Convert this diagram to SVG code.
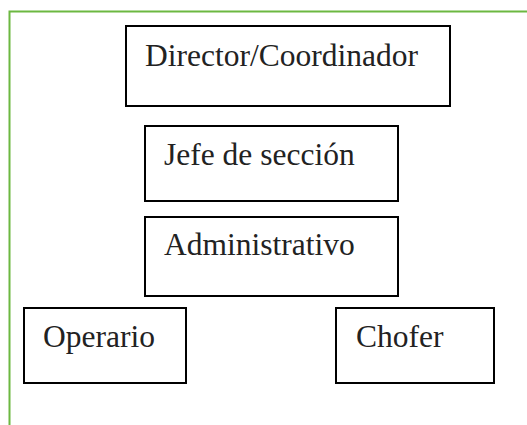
<svg xmlns="http://www.w3.org/2000/svg" width="527" height="425" viewBox="0 0 527 425">
<style>
.box{fill:#fff;stroke:#000;stroke-width:2}
.lbl{font-family:'Liberation Serif','Times New Roman',serif;font-size:31.5px;fill:#222}
</style>
<rect width="527" height="425" fill="#fff"/>
<path d="M9.5,425 V11.5 H527" fill="none" stroke="#6cb841" stroke-width="2"/>
<g id="connectors"></g>
<g id="director">
<rect class="box" x="126" y="26" width="324" height="80"/>
<text class="lbl" x="145" y="66">Director/Coordinador</text>
</g>
<g id="jefe">
<rect class="box" x="145" y="126" width="253" height="75"/>
<text class="lbl" x="164" y="165">Jefe de sección</text>
</g>
<g id="administrativo">
<rect class="box" x="145" y="217" width="253" height="79"/>
<text class="lbl" x="164" y="255">Administrativo</text>
</g>
<g id="operario">
<rect class="box" x="24" y="308" width="162" height="75"/>
<text class="lbl" x="43" y="347">Operario</text>
</g>
<g id="chofer">
<rect class="box" x="336" y="308" width="158" height="75"/>
<text class="lbl" x="356" y="347">Chofer</text>
</g>
</svg>
